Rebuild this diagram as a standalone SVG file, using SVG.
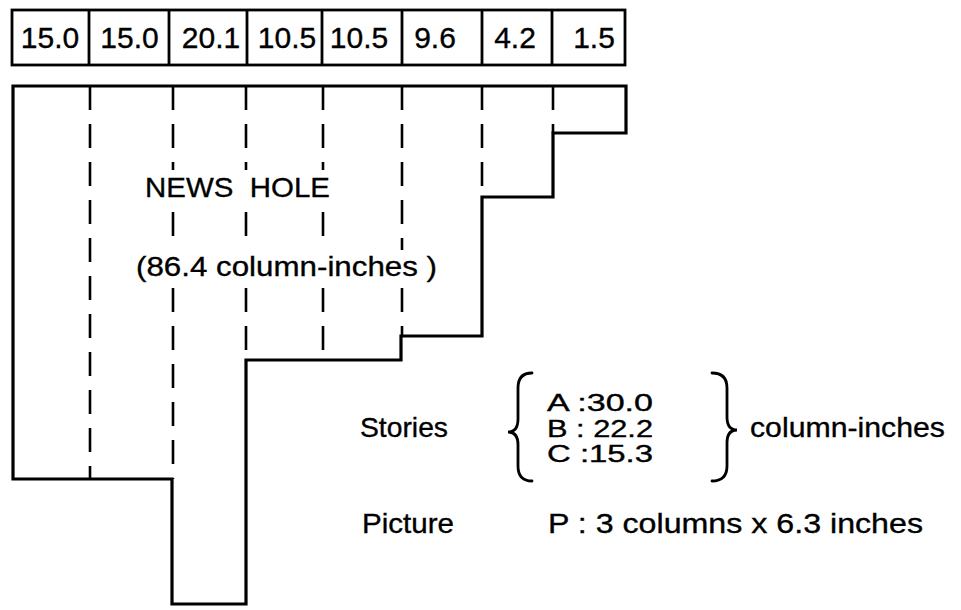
<svg xmlns="http://www.w3.org/2000/svg" width="961" height="610" viewBox="0 0 961 610">
<style>
.solid{fill:none;stroke:#000;stroke-width:3.2;stroke-linejoin:miter}
.thin{fill:none;stroke:#000;stroke-width:2.8}
.dash{fill:none;stroke:#000;stroke-width:2.6;stroke-dasharray:24 14}
.t{font-family:"Liberation Sans",Arial,sans-serif;fill:#000;stroke:#000;stroke-width:0.35}
.num{font-size:30px;text-anchor:middle}
.lab{font-size:28px}
.abc{font-size:23px}
.brace{fill:none;stroke:#000;stroke-width:2.8;stroke-linecap:round}
</style>
<rect width="961" height="610" fill="#fff"/>
<g id="column-totals">
  <rect class="thin" x="12" y="10" width="613" height="55"/>
  <path class="thin" d="M89,10V65M169,10V65M247,10V65M322,10V65M402,10V65M482,10V65M552,10V65"/>
  <text class="t num" x="50" y="48">15.0</text>
  <text class="t num" x="129.5" y="48">15.0</text>
  <text class="t num" x="211" y="48">20.1</text>
  <text class="t num" x="287" y="48">10.5</text>
  <text class="t num" x="359" y="48">10.5</text>
  <text class="t num" x="435" y="48">9.6</text>
  <text class="t num" x="515" y="48">4.2</text>
  <text class="t num" x="594" y="48">1.5</text>
</g>
<g id="news-hole">
  <path class="solid" d="M13,86H626V133H553V197H482V336H401V360H246V604H172V479H13Z"/>
  <g id="column-dividers">
    <path class="dash" d="M90,86V479"/>
    <path class="dash" d="M173,86V170M173,212V245M173,288V479"/>
    <path class="dash" d="M246,86V170M246,212V245M246,288V360"/>
    <path class="dash" d="M323,86V170M323,212V245M323,288V360"/>
    <path class="dash" d="M402,86V250M402,288V336"/>
    <path class="dash" d="M482,86V197"/>
    <path class="dash" d="M553,86V133"/>
  </g>
  <text class="t lab" x="145" y="197" textLength="185" lengthAdjust="spacingAndGlyphs" word-spacing="8">NEWS HOLE</text>
  <text class="t lab" x="136" y="276" textLength="301" lengthAdjust="spacingAndGlyphs">(86.4 column-inches )</text>
</g>
<g id="stories">
  <text class="t lab" x="360" y="437" textLength="88" lengthAdjust="spacingAndGlyphs">Stories</text>
  <path class="brace" d="M532,373Q518,373 518,388L518,419Q518,432 508,432Q518,432 518,445L518,466Q518,481 532,481"/>
  <text class="t abc" x="547" y="411" textLength="106" lengthAdjust="spacingAndGlyphs">A :30.0</text>
  <text class="t abc" x="547" y="436.5" textLength="106" lengthAdjust="spacingAndGlyphs">B : 22.2</text>
  <text class="t abc" x="547" y="462" textLength="106" lengthAdjust="spacingAndGlyphs">C :15.3</text>
  <path class="brace" d="M712,373Q727,373 727,388L727,417Q727,430 737,430Q727,430 727,443L727,466Q727,481 712,481"/>
  <text class="t lab" x="750" y="437" textLength="195" lengthAdjust="spacingAndGlyphs">column-inches</text>
</g>
<g id="picture">
  <text class="t lab" x="362" y="533" textLength="92" lengthAdjust="spacingAndGlyphs">Picture</text>
  <text class="t lab" x="548" y="533" textLength="375" lengthAdjust="spacingAndGlyphs">P : 3 columns  x  6.3 inches</text>
</g>
</svg>
